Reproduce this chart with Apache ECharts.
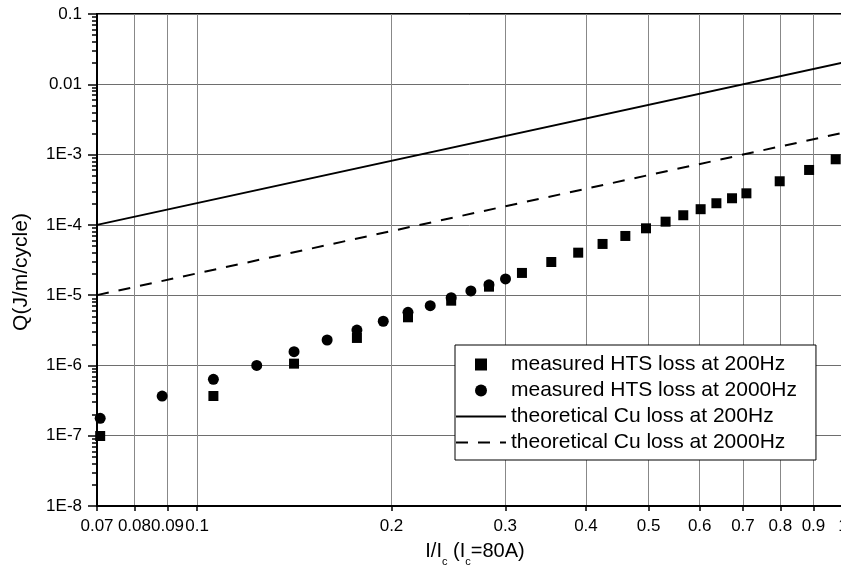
<!DOCTYPE html>
<html>
<head>
<meta charset="utf-8">
<script src="https://cdn.jsdelivr.net/npm/echarts@6/dist/echarts.min.js"></script>
<style>
html,body{margin:0;padding:0;background:#fff;}
#main{width:841px;height:570px;}
</style>
</head>
<body>
<div id="main"></div>
<script>
// ---- data ----
const xTicks = [0.07, 0.08, 0.09, 0.1, 0.2, 0.3, 0.4, 0.5, 0.6, 0.7, 0.8, 0.9, 1];
const yTicks = [1e-8, 1e-7, 1e-6, 1e-5, 1e-4, 1e-3, 0.01, 0.1];
const yMinorMultipliers = [2, 3, 4, 5, 6, 7, 8, 9];

const hts200X = [0.0708, 0.106, 0.1413, 0.1768, 0.2121, 0.2474, 0.2831, 0.3184, 0.3535, 0.3891, 0.4244, 0.4603, 0.4955, 0.5313, 0.5659, 0.602, 0.6368, 0.6733, 0.7087, 0.798, 0.8862, 0.9743];
const hts200Y = [9.9e-8, 3.67e-7, 1.06e-6, 2.46e-6, 4.84e-6, 8.34e-6, 1.32e-5, 2.07e-5, 2.96e-5, 4.02e-5, 5.35e-5, 6.95e-5, 8.93e-5, 1.11e-4, 1.37e-4, 1.67e-4, 2.03e-4, 2.39e-4, 2.81e-4, 4.17e-4, 6.04e-4, 8.57e-4];

const hts2000X = [0.0708, 0.0883, 0.106, 0.1237, 0.1413, 0.159, 0.1768, 0.1942, 0.2121, 0.2296, 0.2474, 0.2654, 0.2831, 0.3003];
const hts2000Y = [1.77e-7, 3.67e-7, 6.35e-7, 1.0e-6, 1.57e-6, 2.3e-6, 3.19e-6, 4.25e-6, 5.7e-6, 7.08e-6, 9.2e-6, 1.15e-5, 1.4e-5, 1.7e-5];

const cuX = [0.07, 1];
const cu200Y = [1e-4, 0.0204];
const cu2000Y = [1e-5, 0.00204];

const seriesNames = [
  'measured HTS loss at 200Hz',
  'measured HTS loss at 2000Hz',
  'theoretical Cu loss at 200Hz',
  'theoretical Cu loss at 2000Hz'
];

// ---- build ----
const FONT = 'Liberation Sans, Arial, sans-serif';
const zip = (xs, ys) => xs.map((x, i) => [x, ys[i]]);
const yMinor = [];
yTicks.slice(0, -1).forEach(d => yMinorMultipliers.forEach(m => yMinor.push(d * m)));

function fmtX(v) { return String(parseFloat(Number(v).toPrecision(3))); }
function fmtY(v) {
  const e = Math.round(Math.log10(v));
  if (e >= -2) return String(parseFloat(Number(v).toPrecision(3)));
  return '1E' + e;
}

const SQUARE = 'path://M0,0L10,0L10,10L0,10Z';
const hidden = { color: 'rgba(0,0,0,0)', borderWidth: 0, opacity: 0 };

const chart = echarts.init(document.getElementById('main'), null, { renderer: 'canvas' });
chart.setOption({
  animation: false,
  backgroundColor: '#fff',
  textStyle: { fontFamily: FONT },
  grid: {
    left: 97, top: 14, right: -2, bottom: 64,
    outerBoundsMode: 'none', containLabel: false,
    show: true, borderColor: '#000', borderWidth: 2, backgroundColor: 'transparent'
  },
  xAxis: {
    type: 'log', logBase: 10, min: 0.07, max: 1,
    axisLine: { lineStyle: { color: '#000', width: 2 } },
    axisTick: { customValues: xTicks, length: 5, lineStyle: { color: '#000', width: 1.5 } },
    axisLabel: { customValues: xTicks, formatter: fmtX, color: '#000', fontSize: 17, fontFamily: FONT, margin: 12 },
    splitLine: { show: true, lineStyle: { color: '#888', width: 1 } },
    minorTick: { show: false }
  },
  yAxis: [{
    type: 'log', logBase: 10, min: 1e-8, max: 0.1,
    axisLine: { lineStyle: { color: '#000', width: 2 } },
    axisTick: { customValues: yTicks, length: 9, lineStyle: { color: '#000', width: 1.5 } },
    axisLabel: { customValues: yTicks, formatter: fmtY, color: '#000', fontSize: 17, fontFamily: FONT, margin: 15 },
    splitLine: { show: true, lineStyle: { color: '#6e6e6e', width: 1 } }
  }, {
    type: 'log', logBase: 10, min: 1e-8, max: 0.1, position: 'left',
    axisLine: { show: false },
    axisTick: { show: true, customValues: yMinor, length: 5, lineStyle: { color: '#000', width: 1.5 } },
    axisLabel: { show: false },
    splitLine: { show: false }
  }],
  legend: {
    left: 455, top: 345,
    orient: 'vertical',
    backgroundColor: '#fff',
    borderColor: '#000', borderWidth: 1,
    padding: [9, 19, 7, 0],
    itemWidth: 50, itemHeight: 12, itemGap: 5,
    symbolKeepAspect: true,
    textStyle: { fontSize: 21, color: '#000', fontFamily: FONT },
    data: [
      { name: seriesNames[0], icon: SQUARE },
      { name: seriesNames[1], icon: 'circle' },
      { name: seriesNames[2], itemStyle: hidden },
      { name: seriesNames[3], itemStyle: hidden }
    ]
  },
  series: [
    { name: seriesNames[2], type: 'line', data: zip(cuX, cu200Y), symbol: 'none',
      lineStyle: { color: '#000', width: 2 }, itemStyle: { color: '#000' }, z: 2 },
    { name: seriesNames[3], type: 'line', data: zip(cuX, cu2000Y), symbol: 'none',
      lineStyle: { color: '#000', width: 2, type: [12, 10] }, itemStyle: { color: '#000' }, z: 2 },
    { name: seriesNames[0], type: 'scatter', data: zip(hts200X, hts200Y), symbol: 'rect', symbolSize: 10,
      itemStyle: { color: '#000', opacity: 1 }, z: 3 },
    { name: seriesNames[1], type: 'scatter', data: zip(hts2000X, hts2000Y), symbol: 'circle', symbolSize: 11,
      itemStyle: { color: '#000', opacity: 1 }, z: 3 }
  ],
  graphic: [
    { type: 'text', x: 21, y: 272, rotation: Math.PI / 2,
      style: { text: 'Q(J/m/cycle)', align: 'center', verticalAlign: 'middle', fill: '#000',
               font: '21px ' + FONT } },
    { type: 'text', x: 475, y: 554,
      style: { text: '{m|I/I}{s|c}{m| (I}{s|c}{m|=80A)}', align: 'center', verticalAlign: 'middle', fill: '#000',
               rich: {
                 m: { fontSize: 20, fontFamily: FONT, verticalAlign: 'bottom', padding: [0, 0, 6, 0] },
                 s: { fontSize: 11, fontFamily: FONT, verticalAlign: 'bottom' }
               } } }
  ]
});
</script>
</body>
</html>
